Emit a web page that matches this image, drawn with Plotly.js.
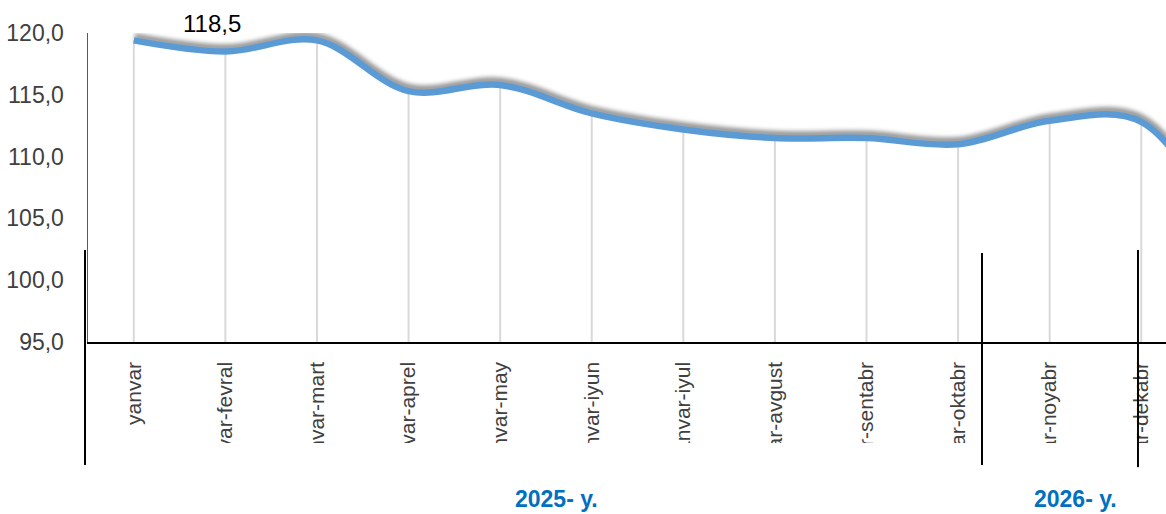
<!DOCTYPE html>
<html>
<head>
<meta charset="utf-8">
<script src="https://cdn.plot.ly/plotly-3.0.1.min.js"></script>
<style>
html,body{margin:0;padding:0;background:#fff;}
#chart{width:1166px;height:514px;}
</style>
</head>
<body>
<div id="chart"></div>
<script>
// ---- data ----
const months = ["yanvar","yanvar-fevral","yanvar-mart","yanvar-aprel","yanvar-may","yanvar-iyun",
  "yanvar-iyul","yanvar-avgust","yanvar-sentabr","yanvar-oktabr","yanvar-noyabr","yanvar-dekabr","yanvar "];
const values = [119.4, 118.5, 119.4, 115.3, 115.8, 113.5, 112.2, 111.5, 111.5, 111.0, 112.9, 112.8, 102.5];
const yearLabels = ["2025- y.", "2026- y."];
const labelIndex = 1; // the single labelled point (yanvar-fevral)
const yMin = 95, yMax = 120;
const yTicks = [95, 100, 105, 110, 115, 120];

const fmt = v => v.toFixed(1).replace('.', ',');

const dropTrace = {
  x: months, y: values, type: 'scatter', mode: 'none', hoverinfo: 'skip',
  error_y: {type: 'data', symmetric: false, array: values.map(() => 0),
            arrayminus: values.map(v => v - yMin), width: 0, color: '#d9d9d9', thickness: 2}
};
const lineTrace = {
  x: months, y: values, type: 'scatter', mode: 'lines',
  line: {color: '#5B9BD5', width: 6.5, shape: 'spline', smoothing: 1},
  hoverinfo: 'skip'
};

const FONT = 'Liberation Sans, Arial, sans-serif';
const layout = {
  width: 1166, height: 514,
  margin: {l: 88, r: 0, t: 33, b: 172},
  paper_bgcolor: '#ffffff', plot_bgcolor: '#ffffff',
  showlegend: false,
  font: {family: FONT, color: '#404040'},
  xaxis: {
    type: 'category', range: [-0.5, 11.27], showgrid: false, zeroline: false,
    showline: true, linecolor: '#000000', linewidth: 1.5,
    tickangle: -90, ticks: '', ticklabelstandoff: 10,
    tickfont: {size: 21, color: '#404040', family: FONT}
  },
  yaxis: {
    range: [yMin, yMax], tickvals: yTicks, ticktext: yTicks.map(fmt),
    showgrid: false, zeroline: false, showline: true, linecolor: '#595959', linewidth: 1.5,
    ticks: '', ticklabelstandoff: 18,
    tickfont: {size: 23, color: '#404040', family: FONT}
  },
  annotations: [
    {x: months[labelIndex], y: values[labelIndex], xref: 'x', yref: 'y', text: fmt(values[labelIndex]),
     showarrow: false, yshift: 28, xshift: -13, xanchor: 'center', yanchor: 'middle',
     font: {size: 24, color: '#000000', family: FONT}},
    {x: 0.435, y: -0.508, xref: 'paper', yref: 'paper', text: '<b>' + yearLabels[0] + '</b>', showarrow: false,
     xanchor: 'center', yanchor: 'middle',
     font: {size: 23, color: '#0070C0', family: FONT}},
    {x: 0.9156, y: -0.508, xref: 'paper', yref: 'paper', text: '<b>' + yearLabels[1] + '</b>', showarrow: false,
     xanchor: 'center', yanchor: 'middle',
     font: {size: 23, color: '#0070C0', family: FONT}}
  ],
  shapes: [
    {type: 'line', xref: 'paper', yref: 'paper', x0: -0.0028, x1: -0.0028, y0: 0.2977, y1: -0.398,
     line: {color: '#000000', width: 2}},
    {type: 'line', xref: 'paper', yref: 'paper', x0: 0.8293, x1: 0.8293, y0: 0.288, y1: -0.398,
     line: {color: '#000000', width: 2}},
    {type: 'line', xref: 'paper', yref: 'paper', x0: 0.974, x1: 0.974, y0: 0.2977, y1: -0.405,
     line: {color: '#000000', width: 2}}
  ]
};

Plotly.newPlot('chart', [dropTrace, lineTrace], layout, {staticPlot: true, displayModeBar: false}).then(gd => {
  const paths = gd.querySelectorAll('.scatterlayer .trace path.js-line');
  paths.forEach(p => { p.style.filter = 'drop-shadow(1px -4px 2px rgba(0,0,0,0.42))'; });
  const pl = gd.querySelector('.subplot.xy > .plot');
  if (pl) pl.removeAttribute('clip-path');
  const svg = gd.querySelector('svg.main-svg');
  const ns = 'http://www.w3.org/2000/svg';
  let defs = svg.querySelector('defs');
  const cp = document.createElementNS(ns, 'clipPath');
  cp.setAttribute('id', 'xlabclip');
  const r = document.createElementNS(ns, 'rect');
  r.setAttribute('x', 0); r.setAttribute('y', 0); r.setAttribute('width', 1166); r.setAttribute('height', 443);
  cp.appendChild(r); defs.appendChild(cp);
  gd.querySelectorAll('.xaxislayer-above').forEach(g => g.setAttribute('clip-path', 'url(#xlabclip)'));
});
</script>
</body>
</html>
